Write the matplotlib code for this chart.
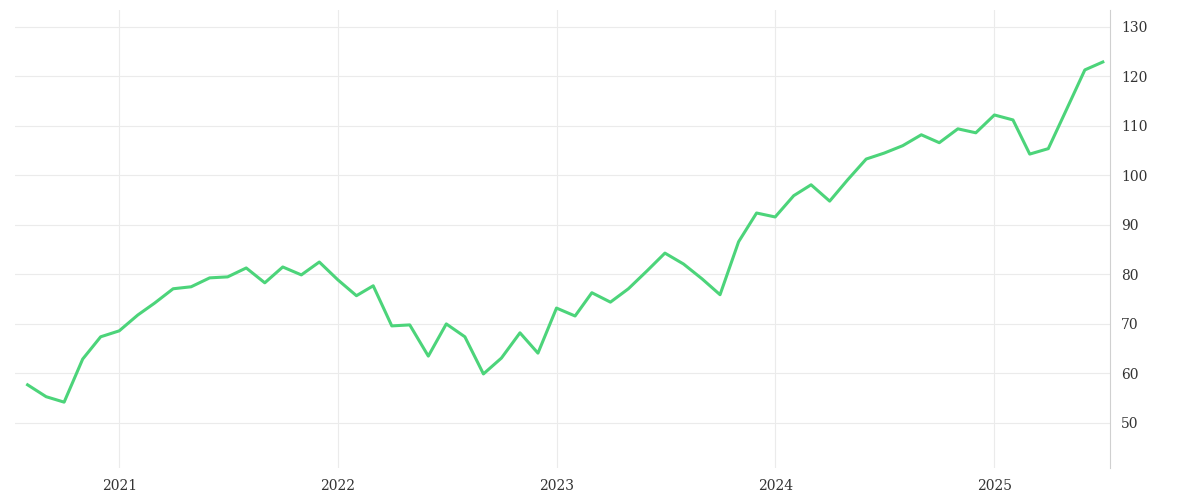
import matplotlib
matplotlib.use("Agg")
import matplotlib.pyplot as plt
import matplotlib.dates as mdates
import pandas as pd

dates = pd.date_range("2020-08-01", "2025-07-01", freq="MS")
values = [57.7,55.3,54.2,62.9,67.4,68.6,71.8,74.2,77.1,77.5,79.3,79.5,81.3,78.3,81.5,79.9,82.5,
          78.9,75.7,77.7,69.6,69.8,63.5,70.0,67.4,59.9,63.1,68.2,64.1,
          73.2,71.6,76.3,74.4,77.1,80.7,84.3,82.1,79.1,75.9,86.6,92.4,
          91.6,95.9,98.1,94.8,99.1,103.3,104.5,106.0,108.2,106.6,109.4,108.6,
          112.2,111.2,104.3,105.4,113.2,121.3,122.9]
yticks = [50,60,70,80,90,100,110,120,130]

fig = plt.figure(figsize=(12,5), dpi=100)
ax = fig.add_axes([15/1200, 1-468/500, 1095/1200, 458/500])
ax.plot(dates, values, color="#4cd47a", lw=2.2)
ax.set_ylim(40.9, 133.4)
ax.set_xlim(pd.Timestamp("2020-07-11"), pd.Timestamp("2025-07-13"))
ax.yaxis.tick_right()
ax.set_yticks(yticks)
ax.xaxis.set_major_locator(mdates.YearLocator())
ax.xaxis.set_major_formatter(mdates.DateFormatter("%Y"))
ax.grid(True, color="#ebebeb", lw=0.8)
for s in ["top","left","bottom"]:
    ax.spines[s].set_visible(False)
ax.spines["right"].set_color("#d0d0d0")
ax.tick_params(length=0, labelsize=10, colors="#333333", pad=8)
for lab in ax.get_xticklabels()+ax.get_yticklabels():
    lab.set_family("DejaVu Serif")
fig.savefig("out.png")
